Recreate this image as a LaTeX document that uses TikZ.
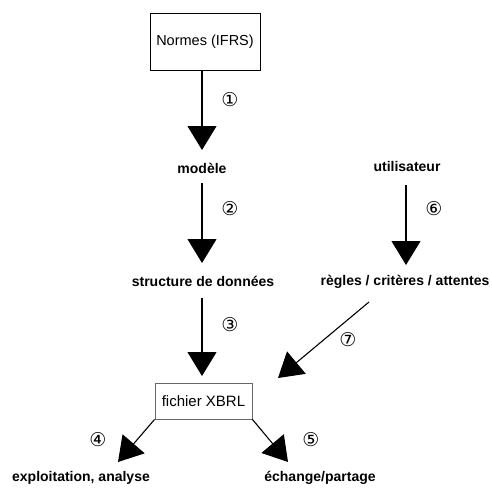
\documentclass[tikz,border=0pt]{standalone}
\usepackage{fontspec}
\setmainfont{Liberation Sans}
\newfontfamily\circfont{DejaVu Sans}
\usetikzlibrary{arrows.meta}
\begin{document}
\begin{tikzpicture}[x=1pt,y=-1pt,
  lbl/.style={font=\fontsize{14}{16}\selectfont\bfseries, inner sep=1pt},
  boxn/.style={draw, line width=0.8pt, font=\fontsize{14.5}{16}\selectfont, inner sep=0pt, minimum height=0pt},
  num/.style={font=\circfont\fontsize{19}{20}\selectfont, inner sep=0pt},
  arr/.style={line width=1.1pt, -{Triangle[width=29pt,length=24pt]}, shorten >=0pt}
]
\useasboundingbox (0,0) rectangle (492,487);
\node[boxn, minimum width=110pt, minimum height=57pt] (normes) at (205,41.5) {Normes (IFRS)};
\node[lbl] (modele) at (202,168) {modèle};
\node[lbl] (struct) at (203,281) {structure de données};
\node[boxn, draw=black!60, minimum width=97pt, minimum height=36pt, font=\fontsize{15}{16}\selectfont] (xbrl) at (203.5,401) {fichier XBRL};
\node[lbl] (util) at (407,166) {utilisateur};
\node[lbl] (regles) at (405,282) {règles / critères / attentes};
\node[lbl] (exploit) at (81,478) {exploitation, analyse};
\node[lbl] (echange) at (320,478) {échange/partage};

\coordinate (t1) at (202,150);
\coordinate (t2) at (202,263);
\coordinate (t3) at (202,376);
\coordinate (t6) at (406,265);
\coordinate (s7) at (369,302);
\coordinate (t7) at (278,378);
\coordinate (t4) at (118,462);
\coordinate (t5) at (288,462);

\draw[arr] (normes.south -| t1) -- (t1);
\draw[arr] (202,183) -- (t2);
\draw[arr] (202,298) -- (t3);
\draw[arr] (406,185) -- (t6);
\draw[arr] (s7) -- (t7);
\draw[arr] (xbrl.south west) -- (t4);
\draw[arr] (xbrl.south east) -- (t5);

\node[num] (n1) at (230,100) {①};
\node[num] (n2) at (230,209) {②};
\node[num] (n3) at (230,325) {③};
\node[num] (n6) at (434,209) {⑥};
\node[num] (n7) at (348,340) {⑦};
\node[num] (n4) at (98,440) {④};
\node[num] (n5) at (311,440) {⑤};
\end{tikzpicture}
\end{document}
